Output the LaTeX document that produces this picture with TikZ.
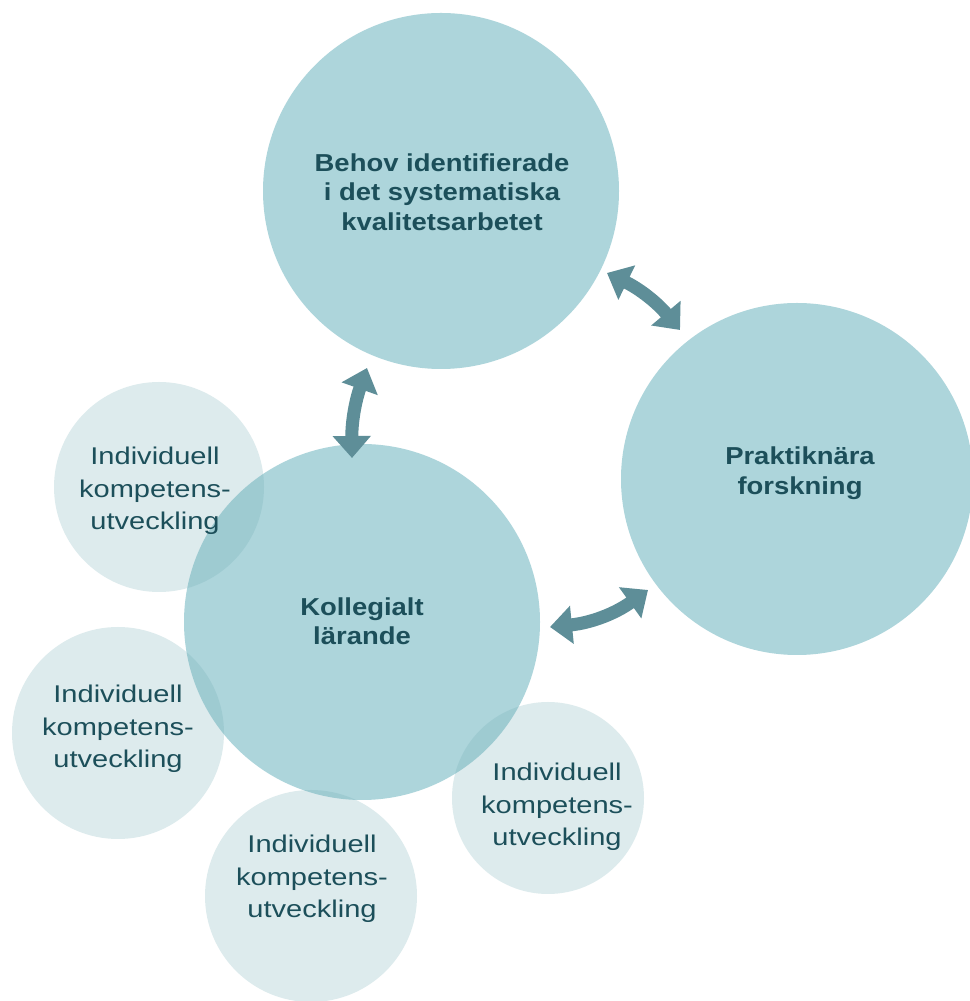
\documentclass[tikz,border=0pt]{standalone}
\usepackage{fontspec}
\usetikzlibrary{arrows.meta}
\newfontfamily\boldtxt{Liberation Sans}[FakeStretch=1.12]
\newfontfamily\regtxt{Liberation Sans}[FakeStretch=1.2]
\definecolor{bigfill}{HTML}{ADD5DB}
\definecolor{smallbase}{HTML}{6EAAB4}
\definecolor{arrowcol}{HTML}{5E8E98}
\definecolor{txtcol}{HTML}{1C4F5A}
\begin{document}
\begin{tikzpicture}[x=1pt,y=1pt,
  bigcirc/.style={circle,fill=bigfill,draw=none,inner sep=0pt},
  smallcirc/.style={circle,fill=smallbase,fill opacity=0.23,draw=none,inner sep=0pt},
  boldlabel/.style={text=txtcol,align=center,font=\boldtxt\bfseries\fontsize{24.5}{29.5}\selectfont,inner sep=0pt},
  reglabel/.style={text=txtcol,align=center,font=\regtxt\fontsize{24.2}{32.5}\selectfont,inner sep=0pt},
  dblarrow/.style={draw=arrowcol,line width=13pt,{Triangle[length=22pt,width=37pt]}-{Triangle[length=22pt,width=37pt]}}
]
\useasboundingbox (0,0) rectangle (969,1001);
\fill[white] (0,0) rectangle (969,1001);
% big circles
\node[bigcirc,minimum size=356pt] (top) at (441,810) {};
\node[bigcirc,minimum size=352pt] (right) at (797,522) {};
\node[bigcirc,minimum size=356pt] (main) at (362,379) {};
% small circles
\node[smallcirc,minimum size=210pt] (s1) at (159,514) {};
\node[smallcirc,minimum size=212pt] (s2) at (118,268) {};
\node[smallcirc,minimum size=212pt] (s3) at (311,105) {};
\node[smallcirc,minimum size=192pt] (s4) at (548,203) {};
% arrows
\coordinate (a1s) at (607,728);
\coordinate (a1e) at (680,671);
\coordinate (a2s) at (367,633);
\coordinate (a2e) at (352,543);
\coordinate (a3s) at (550,374);
\coordinate (a3e) at (648,411);
\draw[dblarrow] (a1s) to[bend left=12] (a1e);
\draw[dblarrow] (a2s) to[bend right=10] (a2e);
\draw[dblarrow] (a3s) to[bend right=15] (a3e);
% texts
\node[boldlabel] (ttop) at (442,809) {Behov identifierade\\i det systematiska\\kvalitetsarbetet};
\node[boldlabel] (tright) at (800,528) {Praktiknära\\forskning};
\node[boldlabel] (tmain) at (362,380) {Kollegialt\\lärande};
\node[reglabel] (ts1) at (155,510) {Individuell\\kompetens-\\utveckling};
\node[reglabel] (ts2) at (118,272) {Individuell\\kompetens-\\utveckling};
\node[reglabel] (ts3) at (312,122) {Individuell\\kompetens-\\utveckling};
\node[reglabel] (ts4) at (557,194) {Individuell\\kompetens-\\utveckling};
\end{tikzpicture}
\end{document}
